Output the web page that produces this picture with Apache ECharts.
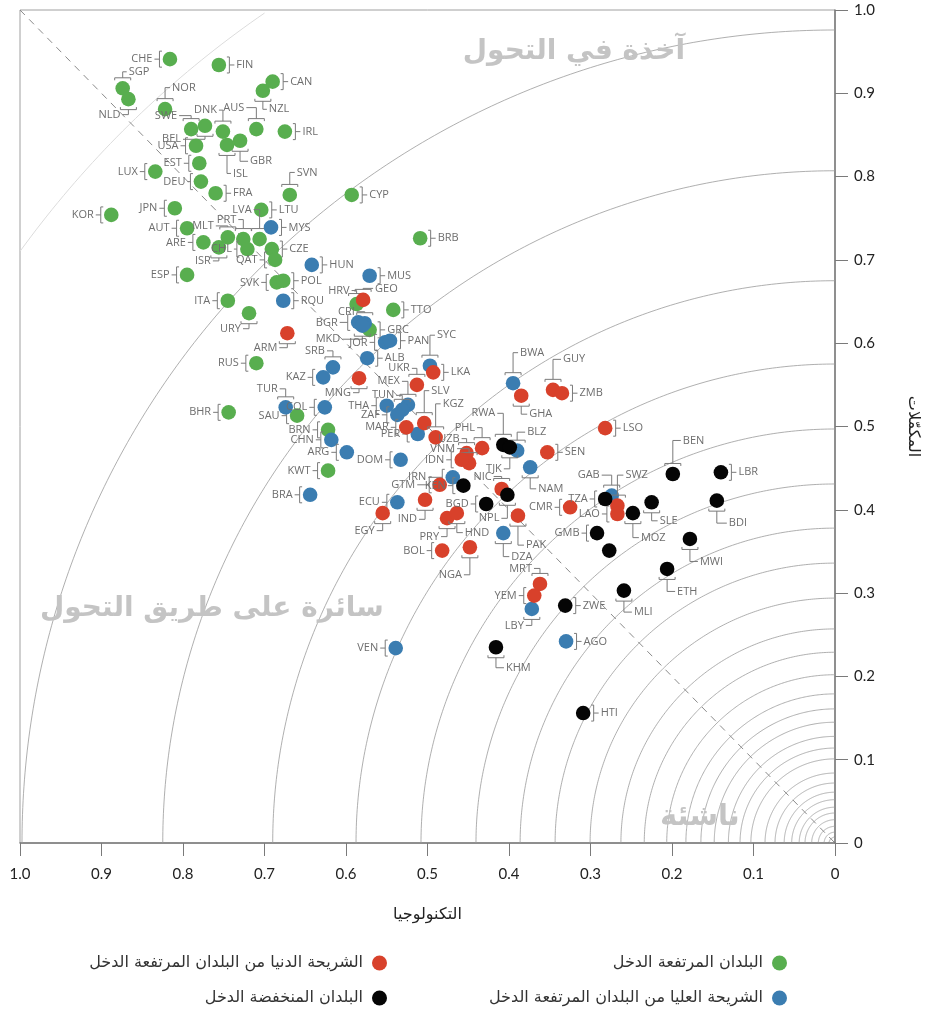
<!DOCTYPE html>
<html><head><meta charset="utf-8">
<script src="https://cdn.jsdelivr.net/npm/echarts@6/dist/echarts.min.js"></script>
<style>html,body{margin:0;padding:0;background:#fff}#c{width:928px;height:1012px}</style>
</head><body><div id="c"></div>
<script>
// ---- data: [code, technology, complements]
const highIncome = [
['CHE',0.816,0.941],['FIN',0.756,0.934],['CAN',0.690,0.914],['NZL',0.702,0.903],['SGP',0.874,0.906],
['NLD',0.867,0.893],['NOR',0.822,0.881],['SWE',0.790,0.857],['BEL',0.773,0.861],['DNK',0.751,0.854],
['AUS',0.710,0.857],['USA',0.784,0.837],['GBR',0.730,0.843],['ISL',0.746,0.838],['IRL',0.675,0.854],
['EST',0.780,0.816],['LUX',0.834,0.806],['DEU',0.778,0.794],['FRA',0.760,0.780],['KOR',0.888,0.754],
['JPN',0.810,0.762],['LTU',0.704,0.760],['SVN',0.669,0.778],['CYP',0.593,0.778],['AUT',0.795,0.738],
['MLT',0.745,0.727],['PRT',0.726,0.725],['LVA',0.706,0.725],['ARE',0.775,0.721],['ISR',0.756,0.715],
['CHL',0.721,0.713],['CZE',0.691,0.713],['QAT',0.687,0.700],['BRB',0.509,0.726],['ESP',0.795,0.682],
['SVK',0.685,0.673],['POL',0.677,0.675],['ITA',0.745,0.651],['HRV',0.587,0.647],['TTO',0.542,0.640],
['URY',0.719,0.636],['GRC',0.571,0.616],['RUS',0.710,0.576],['BHR',0.744,0.517],['SAU',0.660,0.513],
['BRN',0.622,0.496],['KWT',0.622,0.447]
];
const upperMiddle = [
['MYS',0.692,0.739],['HUN',0.642,0.694],['MUS',0.571,0.681],['RQU',0.677,0.651],['BGR',0.585,0.625],
['CRI',0.577,0.624],['MKD',0.580,0.621],['JOR',0.552,0.601],['PAN',0.546,0.603],['ALB',0.574,0.582],
['SRB',0.616,0.571],['KAZ',0.628,0.559],['SYC',0.497,0.573],['TUR',0.674,0.523],['COL',0.626,0.523],
['THA',0.550,0.525],['MEX',0.524,0.526],['TUN',0.531,0.520],['ZAF',0.537,0.514],['PER',0.512,0.491],
['CHN',0.618,0.484],['ARG',0.599,0.469],['DOM',0.533,0.460],['BRA',0.644,0.418],['IRN',0.469,0.439],
['ECU',0.537,0.409],['DZA',0.407,0.372],['BWA',0.395,0.552],['BLZ',0.390,0.471],['NAM',0.374,0.451],
['GAB',0.274,0.417],['LBY',0.372,0.281],['AGO',0.330,0.242],['VEN',0.539,0.234]
];
const lowerMiddle = [
['GEO',0.579,0.652],['ARM',0.672,0.612],['MNG',0.584,0.558],['UKR',0.513,0.550],['LKA',0.493,0.565],
['SLV',0.504,0.504],['KGZ',0.490,0.487],['MAR',0.526,0.499],['PHL',0.433,0.474],['UZB',0.452,0.468],
['VNM',0.449,0.456],['IDN',0.458,0.460],['SEN',0.353,0.469],['GHA',0.385,0.537],['GUY',0.346,0.544],
['ZMB',0.335,0.540],['LSO',0.282,0.498],['NIC',0.409,0.425],['GTM',0.485,0.430],['EGY',0.555,0.396],
['IND',0.503,0.412],['PRY',0.476,0.390],['HND',0.464,0.396],['BOL',0.482,0.351],['NGA',0.448,0.355],
['PAK',0.389,0.393],['CMR',0.325,0.403],['SWZ',0.267,0.405],['LAO',0.267,0.395],['MRT',0.362,0.311],
['YEM',0.369,0.297]
];
const lowIncome = [
['KEN',0.456,0.429],['BGD',0.428,0.407],['NPL',0.402,0.418],['RWA',0.407,0.478],['TJK',0.399,0.475],
['TZA',0.282,0.413],['GMB',0.292,0.372],['',0.277,0.351],['MOZ',0.248,0.396],['SLE',0.225,0.409],
['BEN',0.199,0.443],['LBR',0.140,0.445],['BDI',0.145,0.411],['MWI',0.178,0.365],['ETH',0.206,0.329],
['MLI',0.259,0.303],['ZWE',0.331,0.285],['KHM',0.416,0.235],['HTI',0.309,0.156]
];
const seriesNames = ['البلدان المرتفعة الدخل','الشريحة العليا من البلدان المرتفعة الدخل','الشريحة الدنيا من البلدان المرتفعة الدخل','البلدان المنخفضة الدخل'];
const tickValues = [1.0,0.9,0.8,0.7,0.6,0.5,0.4,0.3,0.2,0.1,0];
// guide-arc radii, in units of the vertical axis, centred on the origin corner
const arcRadii = [0.976,0.807,0.675,0.575,0.497,0.431,0.378,0.336,0.294,0.257,0.229,0.202,0.179,0.161,0.145,0.128,0.114,0.101,0.084,0.072,0.061,0.052,0.043,0.036,0.028,0.020,0.013,0.007];
const outerArc = [1.209];
const zoneTexts = ['آخذة في التحول','سائرة على طريق التحول','ناشئة'];

// ---- label layout (kept apart from the data): [side, vertical leg, horizontal leg]
const labelPos = {
CHE:['L'],FIN:['R'],CAN:['R'],NZL:['BR',8,4],SGP:['TR',6,4],NLD:['BL',5,6],NOR:['TR',11,5],SWE:['TL',3,12],
BEL:['BL',3,22],DNK:['TL',11,4],AUS:['TL',11,10],USA:['L'],GBR:['BR',10,8],ISL:['BR',18,4],IRL:['R'],
EST:['L'],LUX:['L'],DEU:['L',3],FRA:['R'],KOR:['L'],JPN:['L'],LTU:['R'],SVN:['TR',12,5],CYP:['R'],AUT:['L'],
MLT:['TL',1,12],PRT:['TL',9,5],LVA:['TL',19,6],ARE:['L'],ISR:['BL',3,6],CHL:['L',3],CZE:['R'],QAT:['L'],
BRB:['R'],ESP:['L'],SVK:['L'],POL:['R'],ITA:['L'],HRV:['TL',3,5],TTO:['R'],URY:['BL',5,6],GRC:['R'],
RUS:['L'],BHR:['L'],SAU:['L'],BRN:['L'],KWT:['L'],
MYS:['R'],HUN:['R'],MUS:['R'],RQU:['R'],BGR:['L',8],CRI:['TL',1,8],MKD:['BL',3,20],JOR:['L'],PAN:['R'],
ALB:['R'],SRB:['TL',6,6],KAZ:['L'],SYC:['TR',20,5],TUR:['TL',8,6],COL:['L'],THA:['L'],MEX:['TL',13,6],
TUN:['TL',4,6],ZAF:['L'],PER:['L'],CHN:['L'],ARG:['L'],DOM:['L'],BRA:['L'],IRN:['L',14],ECU:['L'],
DZA:['BR',13,6],BWA:['TR',20,5],BLZ:['TR',8,8],NAM:['BR',11,6],GAB:['TL',10,10],LBY:['BL',6,6],AGO:['R'],VEN:['L'],
GEO:['TR',1,10],ARM:['BL',4,8],MNG:['BL',4,6],UKR:['TL',6,5],LKA:['R'],SLV:['TR',22,5],KGZ:['TR',23,5],
MAR:['L'],PHL:['TL',10,5],UZB:['TL',4,5],VNM:['TL',4,12],IDN:['L'],SEN:['R'],GHA:['BR',8,6],GUY:['TR',20,8],
ZMB:['R'],LSO:['R'],NIC:['TL',2,8],GTM:['L',12],EGY:['BL',7,6],IND:['BL',9,6],PRY:['BL',8,6],HND:['BR',9,6],
BOL:['L'],NGA:['BL',17,6],PAK:['BR',19,6],CMR:['L'],SWZ:['TR',20,6],LAO:['L'],MRT:['TL',5,6],YEM:['L'],
KEN:['L'],BGD:['L'],NPL:['BL',13,6],RWA:['TL',21,6],TJK:['BL',11,6],TZA:['L'],GMB:['L'],MOZ:['BR',14,6],
SLE:['BR',8,6],BEN:['TR',23,8],LBR:['R'],BDI:['BR',12,10],MWI:['BR',12,8],ETH:['BR',12,8],MLI:['BR',11,8],
ZWE:['R'],KHM:['BR',10,8],HTI:['R']
};

const colors = ['#58ae4f','#3b7db1','#d8412b','#050505'];
const LBL = {fill:'#6e6e6e', fontSize:11, fontFamily:'Open Sans, sans-serif'};
const BR = {stroke:'#7a7a7a', lineWidth:1, fill:null};
const DOT_R = 7.3;

function makeRender(list){
  return function(params, api){
    const d = list[params.dataIndex];
    const p = api.coord([api.value(0), api.value(1)]);
    const cx = p[0], cy = p[1];
    const ch = [{type:'circle', shape:{cx:cx, cy:cy, r:DOT_R}, style:{fill:api.visual('color'), blend:'multiply'}}];
    const spec = labelPos[d[0]];
    if (spec){
      const s = spec[0]; const b = 10.5, t = 8;
      if (s==='L' || s==='R'){
        const k = s==='L' ? -1 : 1; const len = spec[1]!=null ? spec[1] : 5;
        ch.push({type:'polyline', shape:{points:[[cx+k*t,cy-t],[cx+k*b,cy-t],[cx+k*b,cy+t],[cx+k*t,cy+t]]}, style:BR});
        ch.push({type:'line', shape:{x1:cx+k*b,y1:cy,x2:cx+k*(b+len),y2:cy}, style:BR});
        ch.push({type:'text', x:cx+k*(b+len+2), y:cy, style:Object.assign({text:d[0], align:k<0?'right':'left', verticalAlign:'middle'}, LBL)});
      } else {
        const kv = s[0]==='T' ? -1 : 1; const kh = s[1]==='L' ? -1 : 1;
        const v = spec[1], h = spec[2];
        ch.push({type:'polyline', shape:{points:[[cx-t,cy+kv*t],[cx-t,cy+kv*b],[cx+t,cy+kv*b],[cx+t,cy+kv*t]]}, style:BR});
        const ye = cy+kv*(b+v);
        ch.push({type:'polyline', shape:{points:[[cx,cy+kv*b],[cx,ye],[cx+kh*h,ye]]}, style:BR});
        ch.push({type:'text', x:cx+kh*(h+2), y:ye, style:Object.assign({text:d[0], align:kh<0?'right':'left', verticalAlign:'middle'}, LBL)});
      }
    }
    return {type:'group', children:ch};
  };
}

// guide arcs: circles around the origin corner, radius measured on the vertical axis
function arcRender(list, color, width){
  return function(params, api){
    const o = api.coord([0,0]);
    const tl = api.coord([1,1]);
    const R = Math.abs(api.size([0, list[params.dataIndex]])[1]);
    const pts = [];
    for (let i=0;i<=180;i++){
      const a = Math.PI + (Math.PI/2)*i/180;
      const x = o[0] + R*Math.cos(a), y = o[1] + R*Math.sin(a);
      if (x >= tl[0]-0.5 && y >= tl[1]-0.5) pts.push([x,y]);
    }
    return {type:'polyline', shape:{points:pts}, style:{stroke:color, lineWidth:width, fill:null}};
  };
}

const groups = [highIncome, upperMiddle, lowerMiddle, lowIncome];
const series = [
  {type:'custom', name:'arcs', coordinateSystem:'cartesian2d', renderItem:arcRender(arcRadii,'#9a9a9a',0.8), data:arcRadii.map(r=>[0.5,r]), silent:true, z:1},
  {type:'custom', name:'outer', coordinateSystem:'cartesian2d', renderItem:arcRender(outerArc,'#dcdcdc',1), data:outerArc.map(r=>[0.5,0.5]), silent:true, z:1},
  {type:'line', name:'diag', data:[[1,1],[0,0]], symbol:'none', silent:true, z:1,
   lineStyle:{color:'#8a8a8a', width:1, type:[7,6]}}
];
[0,1,2,3].forEach(function(i){
  series.push({type:'custom', name:seriesNames[i], coordinateSystem:'cartesian2d', renderItem:makeRender(groups[i]),
    itemStyle:{color:colors[i]}, data:groups[i].map(d=>[d[1],d[2]]), encode:{x:0,y:1}, z:3+i});
});

function legendAt(name, right, top){
  return {data:[name], right:right, top:top, align:'right', icon:'circle', itemWidth:15, itemHeight:15, itemGap:0,
    selectedMode:false, textStyle:{fontSize:16, color:'#333', fontFamily:'DejaVu Sans, sans-serif', padding:[0,4,0,0]}};
}

const chart = echarts.init(document.getElementById('c'), null, {renderer:'canvas'});
chart.setOption({
  animation:false,
  grid:{left:20, right:93, top:10, bottom:169, show:true, borderColor:'#a0a0a0', borderWidth:1, containLabel:false, outerBoundsMode:'none'},
  xAxis:{type:'value', inverse:true, min:0, max:1, interval:0.1,
    name:'التكنولوجيا', nameLocation:'middle', nameGap:64, nameTextStyle:{fontSize:16, color:'#222', fontFamily:'DejaVu Sans, sans-serif'},
    axisLine:{show:true, lineStyle:{color:'#7a7a7a', width:1.5}}, axisTick:{show:true, length:13, lineStyle:{color:'#7a7a7a'}},
    axisLabel:{margin:24, fontSize:15, color:'#222', fontFamily:'Lato, sans-serif', formatter:function(v){return v===0?'0':v.toFixed(1);}},
    splitLine:{show:false}},
  yAxis:{type:'value', position:'right', min:0, max:1, interval:0.1,
    name:'المكمّلات', nameLocation:'middle', nameGap:70, nameRotate:-90, nameTextStyle:{fontSize:16, color:'#222', fontFamily:'DejaVu Sans, sans-serif'},
    axisLine:{show:true, lineStyle:{color:'#7a7a7a', width:1.5}}, axisTick:{show:true, length:13, lineStyle:{color:'#7a7a7a'}},
    axisLabel:{margin:19, fontSize:15, color:'#222', fontFamily:'Lato, sans-serif', formatter:function(v){return v===0?'0':v.toFixed(1);}},
    splitLine:{show:false}},
  legend:[legendAt(seriesNames[0],136,950), legendAt(seriesNames[2],536,950), legendAt(seriesNames[1],136,985), legendAt(seriesNames[3],536,985)],
  graphic:[
    {type:'text', right:928-685, top:38, z:2, style:{text:zoneTexts[0], fontSize:28, fontWeight:'bold', fill:'#c4c4c4', fontFamily:'DejaVu Sans, sans-serif'}},
    {type:'text', left:40, top:595, z:2, style:{text:zoneTexts[1], fontSize:28, fontWeight:'bold', fill:'#c4c4c4', fontFamily:'DejaVu Sans, sans-serif'}},
    {type:'text', left:660, top:803, z:2, style:{text:zoneTexts[2], fontSize:29, fontWeight:'bold', fill:'#c4c4c4', fontFamily:'DejaVu Sans, sans-serif'}}
  ],
  series:series
});
</script></body></html>
